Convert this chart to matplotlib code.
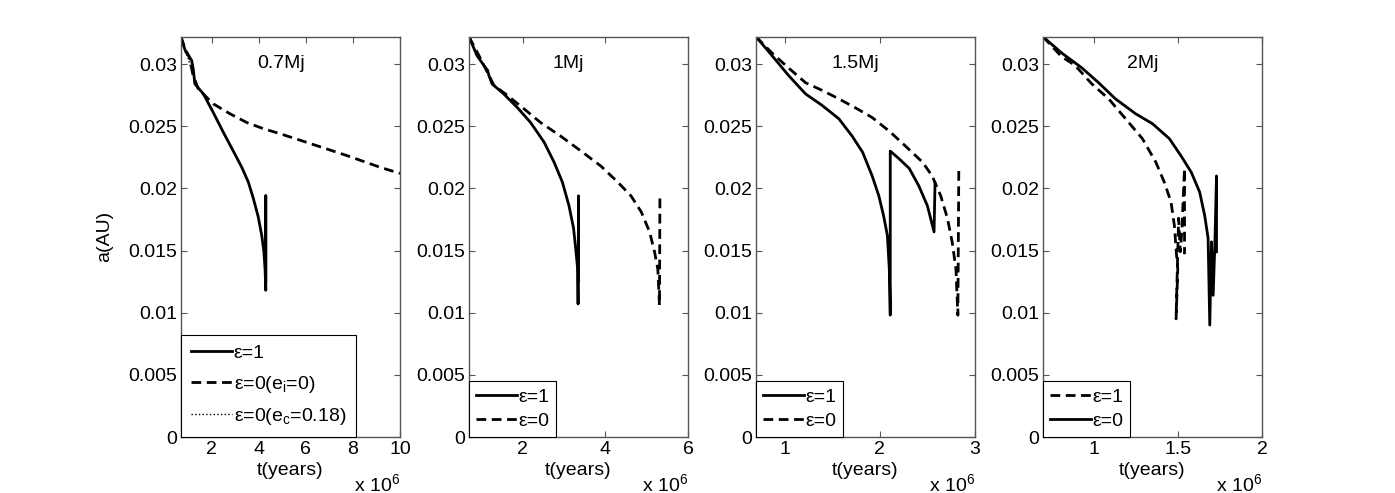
import numpy as np
import matplotlib
matplotlib.use('Agg')
import matplotlib.pyplot as plt

plt.rcParams['font.family'] = ['Liberation Sans', 'DejaVu Sans']
plt.rcParams['mathtext.fontset'] = 'custom'
plt.rcParams['mathtext.rm'] = 'Liberation Sans'
plt.rcParams['mathtext.it'] = 'Liberation Sans'
plt.rcParams['font.size'] = 14

# t in units of 1e6 years, a in AU
# 0.7 Mj
t07_e1 = [0.7, 0.73, 0.9, 1.01, 1.15, 1.22, 1.29, 1.65, 2.07, 2.50, 2.92, 3.28, 3.56, 3.77,
          3.98, 4.13, 4.22, 4.27, 4.30, 4.30, 4.30]
a07_e1 = [0.0322, 0.0319, 0.0310, 0.0307, 0.0303, 0.0296, 0.0284, 0.0276, 0.0261, 0.0245, 0.0230,
          0.0217, 0.0205, 0.0192, 0.0177, 0.0162, 0.0149, 0.0135, 0.0118, 0.0194, 0.0125]
t07_e0 = [0.7, 0.9, 1.05, 1.2, 1.43, 2.07, 2.78, 3.49, 4.20, 4.90, 6.04, 7.74, 9.15, 10.0]
a07_e0 = [0.0322, 0.0311, 0.0306, 0.0292, 0.0280, 0.0268, 0.0260, 0.0253, 0.0248, 0.0244,
          0.0237, 0.02264, 0.0217, 0.0212]
t07_ec = [0.7, 0.8, 0.9, 1.0, 1.1]
a07_ec = [0.0322, 0.0316, 0.0309, 0.0305, 0.0298]

# 1 Mj
t1_e1 = [0.70, 0.89, 1.10, 1.15, 1.18, 1.26, 1.54, 1.87, 2.19, 2.52, 2.76, 2.96, 3.12, 3.23,
         3.29, 3.33, 3.34, 3.35, 3.35]
a1_e1 = [0.0322, 0.0307, 0.0297, 0.0295, 0.0291, 0.0284, 0.0276, 0.0265, 0.0253, 0.0237,
         0.0221, 0.0205, 0.0186, 0.0168, 0.0149, 0.0135, 0.0107, 0.0194, 0.0125]
t1_e0 = [0.70, 0.97, 1.30, 1.62, 2.03, 2.43, 2.92, 3.41, 3.89, 4.30, 4.62, 4.87, 5.07, 5.19,
         5.27, 5.31, 5.32]
a1_e0 = [0.0322, 0.0305, 0.0283, 0.0275, 0.0264, 0.0253, 0.0242, 0.0230, 0.0218, 0.0205,
         0.0194, 0.0181, 0.0165, 0.0149, 0.0135, 0.0106, 0.0194]

# 1.5 Mj
t15_e1 = [0.70, 0.866, 1.04, 1.22, 1.39, 1.57, 1.71, 1.82, 1.92, 1.99, 2.04, 2.08, 2.10, 2.11,
          2.11, 2.20, 2.31, 2.41, 2.50, 2.57, 2.58]
a15_e1 = [0.0322, 0.0307, 0.0291, 0.0276, 0.0267, 0.0256, 0.0242, 0.0229, 0.0210, 0.0194,
          0.0178, 0.0162, 0.0135, 0.0098, 0.0230, 0.0224, 0.0216, 0.0202, 0.0186, 0.0165, 0.0204]
t15_e0 = [0.70, 0.866, 1.04, 1.22, 1.39, 1.57, 1.74, 1.92, 2.10, 2.27, 2.45, 2.55, 2.64, 2.71,
          2.76, 2.80, 2.82, 2.83]
a15_e0 = [0.0322, 0.0309, 0.0297, 0.0285, 0.0279, 0.0272, 0.0265, 0.0257, 0.0246, 0.0234,
          0.0221, 0.0210, 0.0194, 0.0176, 0.0157, 0.0135, 0.0098, 0.0216]

# 2 Mj (dashed is eps=1, solid is eps=0 in this panel)
t2_e1 = [0.70, 0.81, 0.89, 0.99, 1.09, 1.19, 1.29, 1.37, 1.42, 1.46, 1.48, 1.49, 1.50, 1.49,
         1.505, 1.515, 1.525, 1.54, 1.54]
a2_e1 = [0.0322, 0.0306, 0.0299, 0.0284, 0.0272, 0.0256, 0.0240, 0.0221, 0.0205, 0.0189,
         0.0170, 0.0151, 0.0135, 0.0095, 0.0176, 0.0149, 0.0168, 0.0216, 0.0147]
t2_e0 = [0.70, 0.81, 0.93, 1.03, 1.13, 1.25, 1.35, 1.45, 1.52, 1.58, 1.63, 1.66, 1.68, 1.69,
         1.70, 1.71, 1.72, 1.73, 1.73]
a2_e0 = [0.0322, 0.0309, 0.0297, 0.0285, 0.0272, 0.0260, 0.0252, 0.0240, 0.0226, 0.0213,
         0.0197, 0.0178, 0.0160, 0.0090, 0.0157, 0.0114, 0.0154, 0.0210, 0.0149]

titles = ['0.7Mj', '1Mj', '1.5Mj', '2Mj']
xmax = [10, 6, 3, 2]
xticks = [[2, 4, 6, 8, 10], [2, 4, 6], [1, 2, 3], [1, 1.5, 2]]
xticklabels = [['2', '4', '6', '8', '10'], ['2', '4', '6'], ['1', '2', '3'], ['1', '1.5', '2']]
yticks = [0, 0.005, 0.01, 0.015, 0.02, 0.025, 0.03]
yticklabels = ['0', '0.005', '0.01', '0.015', '0.02', '0.025', '0.03']

W, H = 1395, 493
fig = plt.figure(figsize=(W / 100, H / 100), dpi=100)
lefts = [181, 469, 756, 1043]
dash = (0, (3.5, 2))
axs = []
for i, l in enumerate(lefts):
    ax = fig.add_axes([l / W, (H - 437) / H, 219 / W, 400.3 / H])
    ax.set_xlim(0.7, xmax[i])
    ax.set_ylim(0, 0.0322)
    ax.set_xticks(xticks[i])
    ax.set_xticklabels(xticklabels[i])
    ax.set_yticks(yticks)
    ax.set_yticklabels(yticklabels)
    ax.tick_params(direction='in', top=True, right=True, length=4, width=0.8,
                   color='#555555', labelsize=14)
    ax.tick_params(axis='x', pad=3)
    ax.tick_params(axis='y', pad=3)
    for s in ax.spines.values():
        s.set_color('#555555')
        s.set_linewidth(1.0)
    ax.text(0.455, 0.934, titles[i], transform=ax.transAxes, ha='center', va='center', fontsize=14)
    ax.text(0.5, -0.083, 't(years)', transform=ax.transAxes, ha='center', va='center', fontsize=14)
    ax.text(1.0, -0.117, r'x 10$^{6}$', transform=ax.transAxes, ha='right', va='center', fontsize=14)
    axs.append(ax)

leg_kw = dict(loc='lower left', borderaxespad=0, fancybox=False, edgecolor='black',
              framealpha=1, handlelength=2.1, handletextpad=0.1, fontsize=14,
              borderpad=0.35, labelspacing=0.35)

ax = axs[0]
ax.plot(t07_e1, a07_e1, color='black', lw=2, label='ε=1')
ax.plot(t07_e0, a07_e0, color='black', lw=2, ls=dash, label=r'ε=0(e$_\mathrm{i}$=0)')
ax.plot(t07_ec, a07_ec, color='black', lw=1, ls=':', label=r'ε=0(e$_\mathrm{c}$=0.18)')
ax.set_ylabel('a(AU)', fontsize=14)
ax.yaxis.set_label_coords(-0.31, 0.5)
lg = ax.legend(**dict(leg_kw, labelspacing=0.6, borderpad=0.5))
lg.get_frame().set_linewidth(0.8)

ax = axs[1]
ax.plot(t1_e1, a1_e1, color='black', lw=2, label='ε=1')
ax.plot(t1_e0, a1_e0, color='black', lw=2, ls=dash, label='ε=0')
lg = ax.legend(**leg_kw)
lg.get_frame().set_linewidth(0.8)

ax = axs[2]
ax.plot(t15_e1, a15_e1, color='black', lw=2, label='ε=1')
ax.plot(t15_e0, a15_e0, color='black', lw=2, ls=dash, label='ε=0')
lg = ax.legend(**leg_kw)
lg.get_frame().set_linewidth(0.8)

ax = axs[3]
ax.plot(t2_e1, a2_e1, color='black', lw=2, ls=dash, label='ε=1')
ax.plot(t2_e0, a2_e0, color='black', lw=2, label='ε=0')
lg = ax.legend(**leg_kw)
lg.get_frame().set_linewidth(0.8)

fig.savefig('out.png', dpi=100)
